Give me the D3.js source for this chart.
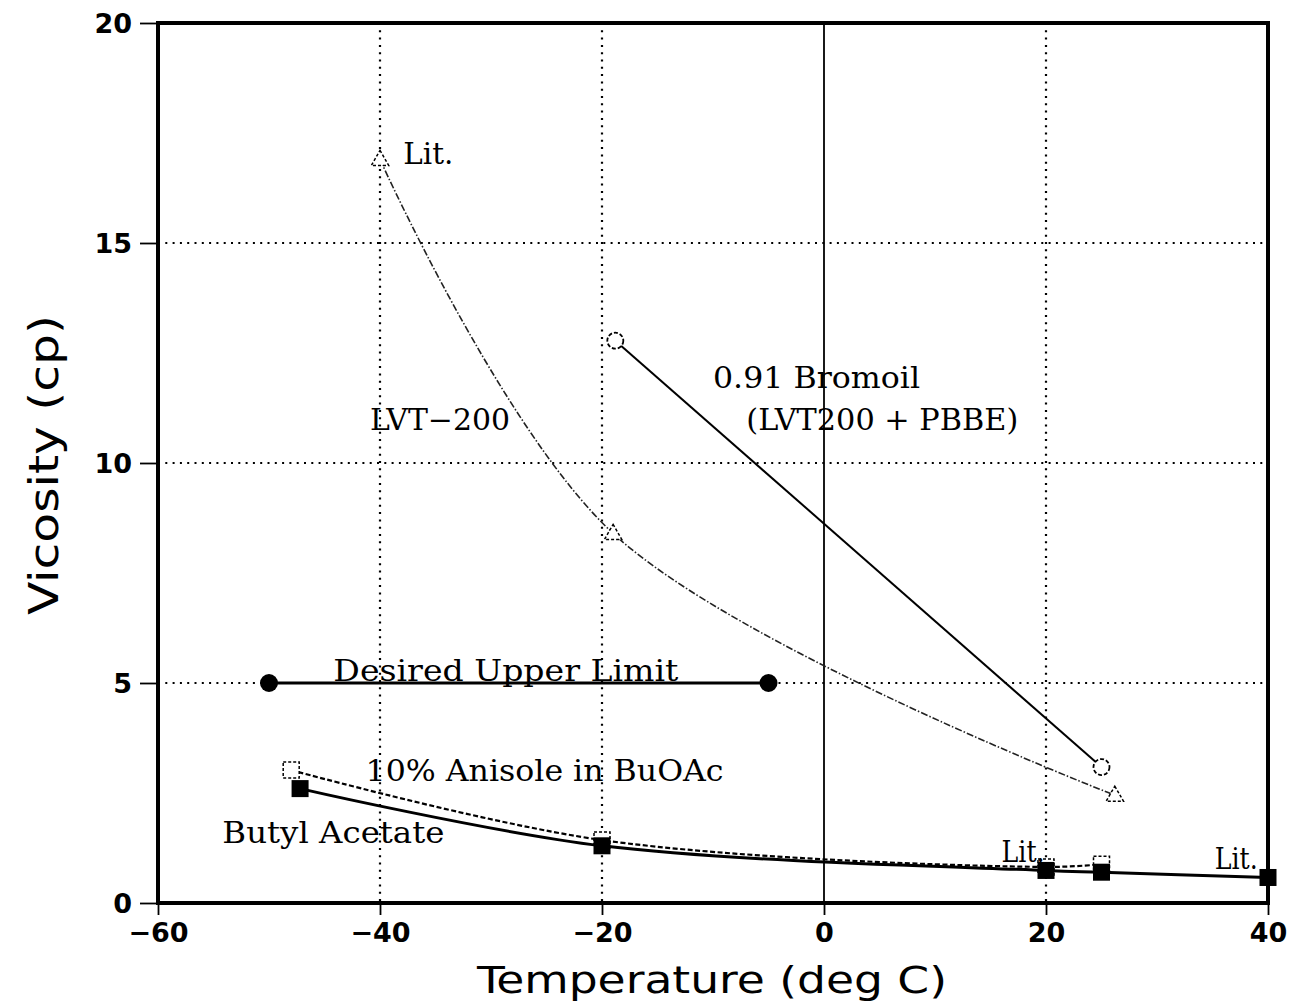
<!DOCTYPE html>
<html>
<head>
<meta charset="utf-8">
<script src="https://cdn.jsdelivr.net/npm/d3@7"></script>
<style>
  body { margin: 0; background: #fff; }
  svg { display: block; }
  .tick text { font-family: "DejaVu Sans", sans-serif; font-weight: bold; }
</style>
</head>
<body>
<svg width="1290" height="1003"></svg>
<script>
// 데이터 (온도 deg C, 점도 cp)
const lvtTemp = [-40, -19, 26.2];
const lvtVisc = [16.9, 8.4, 2.45];

const bromoilTemp = [-18.8, 25];
const bromoilVisc = [12.78, 3.09];

const limitTemp = [-50, -5];
const limitVisc = [5, 5];

const anisoleTemp = [-48, -20, 20, 25];
const anisoleVisc = [3.02, 1.43, 0.82, 0.88];

const butylTemp = [-47.2, -20, 20, 25, 40];
const butylVisc = [2.6, 1.3, 0.74, 0.7, 0.58];

const xTicks = [-60, -40, -20, 0, 20, 40];
const yTicks = [0, 5, 10, 15, 20];
const xGrid = [-40, -20, 20];
const yGrid = [5, 10, 15];

// 라벨: 텍스트, x, y (데이터 좌표)
const labelText = ["Lit.", "LVT\u2212200", "0.91 Bromoil", "(LVT200 + PBBE)", "Desired Upper Limit",
                   "10% Anisole in BuOAc", "Butyl Acetate", "Lit.", "Lit."];
const labelX = [-37.9, -40.9, -10.0, -7.0, -44.2, -41.3, -54.2, 16.0, 35.2];
const labelY = [16.8, 10.74, 11.7, 10.74, 5.04, 2.77, 1.36, 0.93, 0.77];

//==========================================================================

const svg = d3.select("svg");
const pLeft = 158, pRight = 1268, pTop = 23, pBottom = 903;

const xScale = d3.scaleLinear().domain([-60, 40]).range([pLeft, pRight]);
const yScale = d3.scaleLinear().domain([0, 20]).range([pBottom, pTop]);

const zip = (xs, ys) => xs.map((x, i) => ({ x: x, y: ys[i] }));

// 그리드 (점선)
const grid = svg.append("g");
grid.selectAll(".vg").data(xGrid).enter().append("line")
    .attr("x1", d => xScale(d)).attr("x2", d => xScale(d))
    .attr("y1", pTop).attr("y2", pBottom)
    .attr("stroke", "#000").attr("stroke-width", 2.2).attr("stroke-dasharray", "2,5.3");
grid.selectAll(".hg").data(yGrid).enter().append("line")
    .attr("x1", pLeft).attr("x2", pRight)
    .attr("y1", d => yScale(d)).attr("y2", d => yScale(d))
    .attr("stroke", "#000").attr("stroke-width", 2.2).attr("stroke-dasharray", "2,5.3");

// 0도 세로선
svg.append("line")
    .attr("x1", xScale(0)).attr("x2", xScale(0))
    .attr("y1", pTop).attr("y2", pBottom)
    .attr("stroke", "#000").attr("stroke-width", 1.8);

// 축
const xAxis = d3.axisBottom(xScale).tickValues(xTicks).tickSize(12).tickPadding(8)
    .tickFormat(d => d < 0 ? "\u2212" + Math.abs(d) : d);
const yAxis = d3.axisLeft(yScale).tickValues(yTicks).tickSize(18).tickPadding(8);

const xAxisG = svg.append("g").attr("transform", `translate(0,${pBottom})`).call(xAxis);
const yAxisG = svg.append("g").attr("transform", `translate(${pLeft},0)`).call(yAxis);
[xAxisG, yAxisG].forEach(g => {
    g.select(".domain").remove();
    g.selectAll(".tick line").attr("stroke", "#000").attr("stroke-width", 1.8);
    g.selectAll(".tick text").attr("fill", "#000").attr("font-size", "27px");
});
yAxisG.selectAll(".tick text").attr("dy", "0.36em");

// 테두리
svg.append("rect")
    .attr("x", pLeft).attr("y", pTop)
    .attr("width", pRight - pLeft).attr("height", pBottom - pTop)
    .attr("fill", "none").attr("stroke", "#000").attr("stroke-width", 4);

// 축 제목
svg.append("text")
    .attr("transform", `translate(58,465) rotate(-90)`)
    .attr("text-anchor", "middle")
    .attr("font-family", "'DejaVu Sans Condensed', 'Liberation Sans Narrow', sans-serif")
    .attr("font-size", "40px")
    .attr("textLength", 300).attr("lengthAdjust", "spacingAndGlyphs")
    .text("Vicosity (cp)");
svg.append("text")
    .attr("x", (pLeft + pRight) / 2 - 1).attr("y", 993)
    .attr("text-anchor", "middle")
    .attr("font-family", "'DejaVu Sans Condensed', 'Liberation Sans Narrow', sans-serif")
    .attr("font-size", "38px")
    .attr("textLength", 470).attr("lengthAdjust", "spacingAndGlyphs")
    .text("Temperature (deg C)");

// 선
const plot = svg.append("g");
function drawLine(data, curve, width, dash, color) {
    plot.append("path")
        .attr("d", d3.line().curve(curve).x(d => xScale(d.x)).y(d => yScale(d.y))(data))
        .attr("fill", "none")
        .attr("stroke", color)
        .attr("stroke-width", width)
        .attr("stroke-dasharray", dash);
}

const lvt = zip(lvtTemp, lvtVisc);
const bromoil = zip(bromoilTemp, bromoilVisc);
const limit = zip(limitTemp, limitVisc);
const anisole = zip(anisoleTemp, anisoleVisc);
const butyl = zip(butylTemp, butylVisc);

drawLine(lvt, d3.curveCatmullRom.alpha(0.5), 1.6, "7,2,1.5,2", "#222");
drawLine(bromoil, d3.curveLinear, 2, null, "#000");
drawLine(limit, d3.curveLinear, 3, null, "#000");
drawLine(anisole, d3.curveCatmullRom.alpha(0.5), 2.2, "5,2.5", "#000");
drawLine(butyl, d3.curveCatmullRom.alpha(0.5), 3, null, "#000");

// 마커
const triSym = d3.symbol().type(d3.symbolTriangle).size(130);
plot.selectAll(".tri").data(lvt).enter().append("path")
    .attr("d", triSym)
    .attr("transform", d => `translate(${xScale(d.x)},${yScale(d.y) + 1})`)
    .attr("fill", "#fff").attr("stroke", "#000").attr("stroke-width", 1.5)
    .attr("stroke-dasharray", "3,2");

plot.selectAll(".circ").data(bromoil).enter().append("circle")
    .attr("cx", d => xScale(d.x)).attr("cy", d => yScale(d.y)).attr("r", 8)
    .attr("fill", "#fff").attr("stroke", "#000").attr("stroke-width", 1.8)
    .attr("stroke-dasharray", "4,2");

plot.selectAll(".dot").data(limit).enter().append("circle")
    .attr("cx", d => xScale(d.x)).attr("cy", d => yScale(d.y)).attr("r", 9)
    .attr("fill", "#000");

plot.selectAll(".osq").data(anisole).enter().append("rect")
    .attr("x", d => xScale(d.x) - 8).attr("y", d => yScale(d.y) - 8)
    .attr("width", 16).attr("height", 16)
    .attr("fill", "#fff").attr("stroke", "#000").attr("stroke-width", 1.5)
    .attr("stroke-dasharray", "3,2");

plot.selectAll(".fsq").data(butyl).enter().append("rect")
    .attr("x", d => xScale(d.x) - 8.5).attr("y", d => yScale(d.y) - 8.5)
    .attr("width", 17).attr("height", 17)
    .attr("fill", "#000");

// 라벨
const labelWidth = [50, 140, 207, 272, 345, 358, 222, 43, 43];
plot.selectAll(".lbl").data(labelText).enter().append("text")
    .attr("x", (d, i) => xScale(labelX[i]))
    .attr("y", (d, i) => yScale(labelY[i]))
    .attr("font-family", "'DejaVu Serif', serif")
    .attr("font-size", "29px")
    .attr("textLength", (d, i) => labelWidth[i])
    .attr("lengthAdjust", "spacingAndGlyphs")
    .attr("fill", "#000")
    .text(d => d);
</script>
</body>
</html>
